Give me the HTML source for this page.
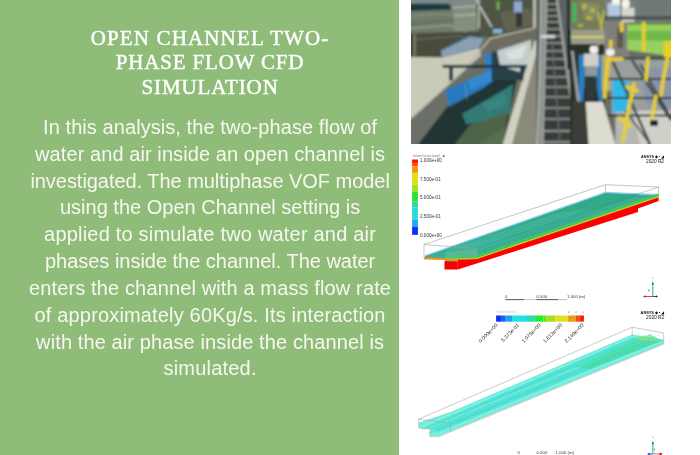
<!DOCTYPE html>
<html><head><meta charset="utf-8">
<style>
html,body{margin:0;padding:0;width:700px;height:455px;overflow:hidden;background:#fff;position:relative}
#panel{position:absolute;left:0;top:0;width:399px;height:455px;background:#8fbc79;will-change:transform;-webkit-font-smoothing:antialiased}
.h{position:absolute;left:20px;width:379px;text-align:center;font-family:"Liberation Serif",serif;font-weight:normal;-webkit-text-stroke:0.45px #fff;font-size:21px;line-height:24px;color:#fff;white-space:nowrap}
.t{position:absolute;left:20.6px;width:379px;text-align:center;font-family:"Liberation Sans",sans-serif;font-size:20px;line-height:26px;color:#f7f7f0;white-space:nowrap}
</style></head><body>
<div id="panel">
<div class="h" style="top:25.5px;left:20.6px;letter-spacing:1.15px">OPEN CHANNEL TWO-</div>
<div class="h" style="top:50px;left:20.6px;letter-spacing:0.82px">PHASE FLOW CFD</div>
<div class="h" style="top:75px;left:20.6px;letter-spacing:0.9px">SIMULATION</div>
<div class="t" style="letter-spacing:0.07px;top:114.00px">In this analysis, the two-phase flow of</div>
<div class="t" style="letter-spacing:0.08px;top:140.82px">water and air inside an open channel is</div>
<div class="t" style="letter-spacing:-0.04px;top:167.64px">investigated. The multiphase VOF model</div>
<div class="t" style="letter-spacing:0.0px;top:194.46px">using the Open Channel setting is</div>
<div class="t" style="letter-spacing:0.2px;top:221.28px">applied to simulate two water and air</div>
<div class="t" style="letter-spacing:-0.02px;top:248.10px">phases inside the channel. The water</div>
<div class="t" style="letter-spacing:0.13px;top:274.92px">enters the channel with a mass flow rate</div>
<div class="t" style="letter-spacing:0.16px;top:301.74px">of approximately 60Kg/s. Its interaction</div>
<div class="t" style="letter-spacing:0.11px;top:328.56px">with the air phase inside the channel is</div>
<div class="t" style="letter-spacing:0.2px;top:355.38px">simulated.</div>
</div>
<svg id="art" width="700" height="455" viewBox="0 0 700 455" style="position:absolute;left:0;top:0"><defs><filter id="soft" x="0" y="0" width="1" height="1"><feGaussianBlur stdDeviation="0.8"/><feComponentTransfer><feFuncA type="table" tableValues="1 1"/></feComponentTransfer></filter></defs><g id="photo" filter="url(#soft)">
<rect x="411" y="0" width="260" height="144" fill="#6a6e60"/>
<!-- ===== left half ===== -->
<polygon points="411,0 476,0 476,4 411,4" fill="#7a8a88"/>
<polygon points="411,3.8 449,3.8 451,9.5 411,11" fill="#1a3840"/>
<polygon points="411,11 476,9.5 479,31.6 411,33.2" fill="#6e7c6c"/>
<polyline points="411,23.7 465,19 479,28.5" stroke="#5a6a5a" stroke-width="1.2" fill="none"/>
<polyline points="411,28.5 449,25.3 474,34.8" stroke="#a8b0a0" stroke-width="1" fill="none"/>
<polyline points="411,16 440,14 476,16" stroke="#90a090" stroke-width="0.8" fill="none"/>
<polygon points="452,4 476,3 476,30 455,31" fill="#8a9484" opacity="0.8"/>
<path d="M452,8 L476,6 M454,16 L476,14" stroke="#c0c8c0" stroke-width="1" fill="none"/>
<polygon points="411,33.2 479,31.6 483.8,36.4 441,50.6 441,57 411,57" fill="#4a4c3c"/>
<polyline points="413,40 458,36 470,38" stroke="#707060" stroke-width="1" fill="none"/>
<rect x="414" y="34" width="1.5" height="22" fill="#8a8a78"/>
<polygon points="441,50.6 469.5,36.4 483.8,38 479,47.5 442.6,57.6" fill="#8aa0b0"/>
<polyline points="441,50.6 469.5,36.4 483.8,38" stroke="#4a7aa0" stroke-width="1.2" fill="none"/>
<polyline points="442.6,57.6 479,47.5" stroke="#5080a0" stroke-width="1.2" fill="none"/>
<polygon points="411,57 442.6,57.6 479,48 481,55 411,118.5" fill="#cacab8"/>
<polygon points="411,118.5 481,55 490,55 447.2,95 447.2,106.4 418.4,144 411,144" fill="#6a7068"/>
<polyline points="411,118.5 481,55" stroke="#b8b8a8" stroke-width="1.2" fill="none"/>
<!-- dark water -->
<polygon points="418.4,144 447.2,106.4 449,106.4 485,87 494,70 515.4,68 518.6,72.8 503,144" fill="#203636"/>
<polygon points="462,114 500,92 513,84 510,114 490,122 466,124" fill="#337a76"/>
<polygon points="482,104 505,94 507,104 488,112" fill="#3c8c84" opacity="0.7"/>
<polygon points="455,144 470,125 508,112 503,144" fill="#506448"/>
<polygon points="478,144 506,126 503,144" fill="#5a7050" opacity="0.8"/>
<!-- blue gate -->
<polygon points="445.4,90 491,70 494,70 493,81 485,87 449,106.4" fill="#2878c0"/>
<polygon points="468,80 491,70 494,70 493,80 470,90" fill="#3a98d8" opacity="0.6"/>
<line x1="465" y1="84" x2="467" y2="100" stroke="#90b0c0" stroke-width="1" opacity="0.5"/>
<polygon points="485,54 493,51 494,70 486,73" fill="#2a80c8"/>
<!-- top-middle -->
<polygon points="476,0 541,0 541,28 490.3,38.4 483.8,36.4 479,31.6 476,9.5" fill="#505444"/>
<polygon points="500,12 530,8 535,25 505,32" fill="#606450"/>
<line x1="476" y1="0" x2="491.7" y2="27" stroke="#c8d0d0" stroke-width="1.5"/>
<rect x="477.5" y="0" width="2.5" height="28.5" fill="#a0a898"/>
<rect x="496.5" y="1.6" width="3" height="8" fill="#70b050"/>
<rect x="514" y="1.6" width="8" height="11" fill="#90a8d0"/>
<rect x="516" y="12.6" width="6" height="14.4" fill="#303838"/>
<rect x="533" y="0" width="3" height="27" fill="#b8b8a8"/>
<rect x="493" y="29" width="9" height="4.5" fill="#80b0d0"/>
<polygon points="490.3,38.4 537.7,27.2 541,27.5 541,38 531,39.8 499.5,50.3 491.6,52 487,55" fill="#6c6c60"/>
<polyline points="466,68 490.3,38.4 537.7,27.2" stroke="#b8b8a8" stroke-width="1.5" fill="none"/>
<polygon points="491.6,52 499.5,50.3 499.5,60.8 515,63.5 527,56 527,80 491.6,80" fill="#2a4048"/>
<polygon points="497,50.8 531,39.8 531,60 520,72 500,66" fill="#c4cccc"/>
<polygon points="505,53 526,45 522,58 510,60" fill="#e0e6e6" opacity="0.8"/>
<!-- right wall -->
<polygon points="534.4,41 540.7,38 512.3,144 502.8,144" fill="#d0d0c0"/>
<polygon points="540.7,38 541,38 541,144 512.3,144" fill="#8a8a7a"/>
<rect x="528" y="54" width="13" height="90" fill="#8a8a80" opacity="0.0"/>
<!-- railing -->
<rect x="442.6" y="64.9" width="84" height="3" fill="#1e3440"/>
<rect x="449" y="67.5" width="4" height="13" fill="#263a44"/>
<rect x="520" y="67.5" width="3.5" height="13" fill="#263a44"/>
<!-- ===== right half ===== -->
<rect x="536" y="0" width="34" height="144" fill="#5a6262"/>
<polygon points="541,0 546.5,0 542.7,144 536,144" fill="#8a9090"/>
<path d="M541,0 L540,70 Q539,110 537,144" stroke="#b0b4b0" stroke-width="1.5" fill="none"/>
<polygon points="547,0 557,0 577.5,144 543,144" fill="#363c3c"/>
<g stroke="#8e8e86" stroke-width="1.8"><line x1="546.4" y1="4" x2="557.6" y2="4"/><line x1="546.2" y1="10" x2="558.4" y2="10"/><line x1="546.1" y1="16" x2="559.3" y2="16"/><line x1="545.9" y1="22" x2="560.1" y2="22"/><line x1="545.7" y1="29" x2="561.1" y2="29"/><line x1="545.5" y1="36" x2="562.1" y2="36"/><line x1="545.4" y1="43" x2="563.1" y2="43"/><line x1="545.2" y1="51" x2="564.3" y2="51"/><line x1="544.9" y1="59" x2="565.4" y2="59"/><line x1="544.7" y1="68" x2="566.7" y2="68"/><line x1="544.5" y1="77" x2="568.0" y2="77"/><line x1="544.2" y1="87" x2="569.4" y2="87"/><line x1="543.9" y1="97" x2="570.8" y2="97"/><line x1="543.6" y1="108" x2="572.4" y2="108"/><line x1="543.4" y1="119" x2="573.9" y2="119"/><line x1="543.0" y1="131" x2="575.6" y2="131"/><line x1="542.8" y1="142" x2="577.2" y2="142"/></g>
<line x1="546.5" y1="0" x2="542.7" y2="144" stroke="#a0a098" stroke-width="2"/>
<line x1="557" y1="0" x2="577.5" y2="144" stroke="#a0a098" stroke-width="2.5"/>
<line x1="552" y1="40" x2="560" y2="144" stroke="#70706a" stroke-width="1.2"/>
<rect x="541" y="35" width="14" height="3" fill="#d0d8d8"/>
<rect x="567" y="0" width="3" height="69" fill="#1a2530"/>
<!-- well -->
<rect x="570" y="25" width="35" height="119" fill="#2a3028"/>
<rect x="570" y="0" width="35" height="30" fill="#767a5a"/>
<polygon points="580,2 600,4 598,20 584,18" fill="#8a8c68" opacity="0.8"/>
<rect x="572.6" y="3" width="3.8" height="19" fill="#40b860"/>
<g fill="#b8b848" opacity="0.85"><rect x="582" y="4" width="5" height="5"/><rect x="590" y="8" width="5" height="5"/><rect x="586" y="16" width="6" height="4"/><rect x="578" y="24" width="5" height="3"/></g>
<path d="M598,12 L606,48 M604,10 L598,46" stroke="#c8c840" stroke-width="2.2" opacity="0.8"/>
<rect x="571" y="30" width="34" height="14" fill="#9a9c90"/>
<rect x="571" y="36" width="34" height="2" fill="#d8d040"/>
<polygon points="578.8,54.7 585,54.7 584,115 579,115" fill="#2a80c0"/>
<polygon points="596,56 602.6,54.7 602.6,112 597,112" fill="#2a80c0"/>
<polygon points="584,88 597,88 600,110 583,112" fill="#1a2838"/>
<polygon points="571,50.7 573.5,50.7 581.5,115 578.5,115" fill="#a0a8a8"/>
<rect x="583.8" y="53.7" width="14.8" height="13" fill="#d0d0c8"/>
<rect x="585" y="66.6" width="12" height="10" fill="#8a9aa0"/>
<rect x="585.7" y="76.5" width="11" height="23.5" fill="#303838"/>
<rect x="589.7" y="45.8" width="8.3" height="8" rx="3.5" fill="#f2f2f2"/>
<polygon points="572.6,101 585.7,102 588.5,144 572.6,144" fill="#3a3c38"/>
<polygon points="585.7,102 603,102 615.4,144 588.5,144" fill="#dcdcd0"/>
<!-- right-right -->
<rect x="604.4" y="0" width="66.6" height="22" fill="#7a7e78"/>
<rect x="636" y="0" width="35" height="16" fill="#707878"/>
<rect x="607.5" y="3" width="12.5" height="16" fill="#b0c8e0"/>
<rect x="621.7" y="8" width="12.7" height="20.5" fill="#d8d8d0"/>
<rect x="612" y="0" width="8" height="4.7" fill="#f4f4f0"/>
<rect x="621.7" y="0" width="8" height="8" rx="3" fill="#f4f4f0"/>
<rect x="604.4" y="16" width="66.6" height="4" fill="#404848" opacity="0.8"/>
<rect x="604.4" y="22" width="25" height="36" fill="#80807a"/>
<polygon points="627.3,22 671,22 671,56 627.3,50" fill="#98d060"/>
<polygon points="627.3,31 671,31 671,41 627.3,40" fill="#70b848"/>
<rect x="627.3" y="22" width="43.7" height="2.5" fill="#5a8a40"/>
<rect x="617" y="28" width="6" height="20" fill="#5a5a50"/>
<g fill="#e8d020"><rect x="642" y="22" width="3.5" height="30"/><rect x="664" y="41" width="7" height="20"/><rect x="620" y="22" width="3.5" height="10"/><rect x="609" y="40" width="3.5" height="8"/></g>
<rect x="601.6" y="54.7" width="10" height="36" fill="#b0a888"/>
<rect x="606" y="48.8" width="8.5" height="7" rx="3" fill="#f2f2f2"/>
<rect x="611.5" y="58" width="59.5" height="56" fill="#9a9e9c"/>
<polygon points="640,68 671,68 671,108 646,104" fill="#8a94a8"/>
<rect x="612.5" y="80.4" width="15.8" height="31.7" fill="#30b8e8"/>
<rect x="632.8" y="110.8" width="38.2" height="33.2" fill="#d0d0c8"/>
<polygon points="615.4,112.3 632.8,110.8 640,144 615.4,144" fill="#b8b8b0"/>
<g fill="#303838"><rect x="604.4" y="57.5" width="66.6" height="2"/><rect x="607" y="78" width="64" height="2"/><rect x="607" y="97" width="64" height="2"/><rect x="607" y="114.5" width="64" height="2"/></g>
<line x1="632" y1="60" x2="671" y2="120" stroke="#404848" stroke-width="2.5"/>
<line x1="625" y1="110" x2="650" y2="144" stroke="#505858" stroke-width="2"/>
<line x1="613" y1="62" x2="650" y2="144" stroke="#3a4242" stroke-width="2.5"/>
<line x1="640" y1="64" x2="671" y2="118" stroke="#3a4242" stroke-width="2"/>
<g stroke="#e8d020" stroke-width="3.6" fill="none" stroke-linecap="round"><polyline points="606,59 622,59"/><polyline points="608,59 606,80 604.5,97"/><polyline points="634,84 628,112 623,141"/><polyline points="627,87 637,91"/><polyline points="668,56 664,75 661,95"/><polyline points="620,118 630,126"/><polyline points="648,58 646,80"/><polyline points="656,96 652,118"/></g>
<rect x="650" y="120" width="8" height="6" fill="#202020"/>
</g>
<g id="cfd1">
<text x="413" y="157" font-size="2.6" fill="#777" font-family="Liberation Sans" textLength="30" lengthAdjust="spacingAndGlyphs">Volume fraction (water) ...</text><rect x="443" y="155.5" width="1.6" height="1.2" fill="#222"/>
<g>
<rect x="412.1" y="159.5" width="5.8" height="3.45" fill="#ff1000"/>
<rect x="412.1" y="162.9" width="5.8" height="3.55" fill="#ff5000"/>
<rect x="412.1" y="166.4" width="5.8" height="6.45" fill="#f09018"/>
<rect x="412.1" y="172.8" width="5.8" height="11.95" fill="#e4dc18"/>
<rect x="412.1" y="184.7" width="5.8" height="6.95" fill="#a8e020"/>
<rect x="412.1" y="191.6" width="5.8" height="9.95" fill="#30e030"/>
<rect x="412.1" y="201.5" width="5.8" height="6.25" fill="#30d8a0"/>
<rect x="412.1" y="207.7" width="5.8" height="12.35" fill="#28dcd8"/>
<rect x="412.1" y="220" width="5.8" height="7.05" fill="#20a8f0"/>
<rect x="412.1" y="227" width="5.8" height="7.85" fill="#1030ff"/>
</g>
<g font-family="Liberation Sans" font-size="4.6" fill="#333">
<text x="420" y="161.7">1.000e+00</text>
<text x="420" y="180.5">7.500e-01</text>
<text x="420" y="199.3">5.000e-01</text>
<text x="420" y="218.1">2.500e-01</text>
<text x="420" y="236.8">0.000e+00</text>
</g>
<g font-family="Liberation Sans" font-weight="bold" fill="#111">
<text x="641" y="157.5" font-size="4" textLength="23" lengthAdjust="spacingAndGlyphs">ANSYS ◆ ▪ ◢</text>
<text x="646" y="163" font-size="5" font-weight="normal" textLength="18" lengthAdjust="spacingAndGlyphs">2020 R2</text>
</g>
<!-- water surface -->
<polygon points="425,256 605.4,192.7 658.6,195 658.6,197 477,258.8 457.8,260 445,259.5 425,258.5" fill="#38ae94"/>
<polygon points="470,242 605.4,192.7 640,195 520,236" fill="#2fa77c" opacity="0.55"/>
<polygon points="445,250 560,212 600,208 480,250" fill="#48b9a6" opacity="0.5"/>
<polygon points="445,252 477,249 477,258.5 445,259" fill="#6cc08c" opacity="0.6"/>
<polyline points="425,255.8 605.4,192.4 658.6,194.6" stroke="#8ccdf0" stroke-width="1.1" fill="none"/>
<polyline points="477,255.8 658.6,193.8" stroke="#58c860" stroke-width="1.4" fill="none" opacity="0.8"/>
<polyline points="445,258 477,257.3 658.6,195.6" stroke="#40d040" stroke-width="1.2" fill="none"/>
<polyline points="445,259.3 477,258.5 658.6,196.7" stroke="#c8e010" stroke-width="1.2" fill="none"/>
<polygon points="457.8,259.8 477,259 658.6,197.2 658.6,201 638,208.5 638,212 457.8,269.5" fill="#ff0000"/>
<polygon points="444.5,261 457.8,260.5 457.8,269.5 444.5,269.5" fill="#f40000"/>
<polygon points="445,258.8 458,259 458,261.4 445,261.2" fill="#c0a040"/>
<polygon points="424,257.3 445,258 445,260 424,259.6" fill="#f09020"/>
<g stroke="#a0a0a0" stroke-width="0.6" fill="none">
<path d="M424,244.5 L605.4,184.7 L658.6,187 L658.6,195 M605.4,184.7 L605.4,192.7 M424,244.5 L477,248.5 L477,256 M424,244.5 L424,257.5"/>
</g>
<path d="M658.6,187 L477,248.5" stroke="#3a7a6a" stroke-width="0.6" fill="none" opacity="0.6"/>
<!-- scale bar 1 -->
<g font-family="Liberation Sans" font-size="4.4" fill="#444">
<text x="505" y="297.8">0</text>
<text x="536.3" y="297.8">0.500</text>
<text x="567" y="297.8">1.000</text>
<text x="578.7" y="297.8">(m)</text>
</g>
<line x1="505.4" y1="299.6" x2="567" y2="299.6" stroke="#999" stroke-width="0.6"/>
<line x1="505.4" y1="299.6" x2="524" y2="299.6" stroke="#555" stroke-width="0.9"/>
<line x1="536.5" y1="299.6" x2="558" y2="299.6" stroke="#555" stroke-width="0.9"/>
<!-- triad 1 -->
<line x1="652.8" y1="283" x2="652.8" y2="296.5" stroke="#30a050" stroke-width="0.9"/>
<polygon points="651.6,284.5 654,284.5 652.8,281.5" fill="#108030"/>
<text x="651.8" y="280" font-size="2.6" fill="#7a7" font-family="Liberation Sans">Y</text>
<line x1="645" y1="296.5" x2="652.8" y2="296.5" stroke="#d03030" stroke-width="0.9"/>
<polygon points="645.5,295.3 645.5,297.7 643,296.5" fill="#c02020"/>
<line x1="652.8" y1="296.5" x2="656.5" y2="296.5" stroke="#2040d0" stroke-width="1"/>
<polygon points="656,295.3 656,297.7 658,296.5" fill="#1030c0"/>
<circle cx="649" cy="290.4" r="0.9" fill="#20c0d0"/>
</g>

<g id="cfd2">
<text x="496.8" y="312.8" font-size="2.6" fill="#c4c4c4" font-family="Liberation Sans" textLength="21" lengthAdjust="spacingAndGlyphs">Velocity Streamline 1</text>
<g fill="#777"><rect x="568" y="311.6" width="1.2" height="1"/><rect x="575.5" y="311.6" width="1" height="1"/><rect x="582.5" y="311.6" width="1" height="1"/></g>
<g>
<rect x="496.1" y="315.5" width="4.85" height="6.2" fill="#1030f0"/>
<rect x="500.9" y="315.5" width="4.15" height="6.2" fill="#2060f0"/>
<rect x="505" y="315.5" width="7.65" height="6.2" fill="#20a0f0"/>
<rect x="512.6" y="315.5" width="14.45" height="6.2" fill="#20e0e8"/>
<rect x="527" y="315.5" width="8.95" height="6.2" fill="#30d8a8"/>
<rect x="535.9" y="315.5" width="7.55" height="6.2" fill="#20f020"/>
<rect x="543.4" y="315.5" width="2.85" height="6.2" fill="#60e020"/>
<rect x="546.2" y="315.5" width="8.95" height="6.2" fill="#a0e020"/>
<rect x="555.1" y="315.5" width="13.05" height="6.2" fill="#e0e020"/>
<rect x="568.1" y="315.5" width="7.65" height="6.2" fill="#e89a18"/>
<rect x="575.7" y="315.5" width="4.15" height="6.2" fill="#f05010"/>
<rect x="579.8" y="315.5" width="4.15" height="6.2" fill="#ff2000"/>
</g>
<g font-family="Liberation Sans" font-size="5.2" fill="#333" text-anchor="end">
<text transform="translate(498,325.5) rotate(-46)">0.000e+00</text>
<text transform="translate(519.5,325.5) rotate(-46)">5.373e-01</text>
<text transform="translate(541,325.5) rotate(-46)">1.075e+00</text>
<text transform="translate(562.5,325.5) rotate(-46)">1.612e+00</text>
<text transform="translate(584,325.5) rotate(-46)">2.149e+00</text>
</g>
<g font-family="Liberation Sans" font-weight="bold" fill="#111">
<text x="640.6" y="313.6" font-size="4" textLength="23.7" lengthAdjust="spacingAndGlyphs">ANSYS ◆ ▪ ◢</text>
<text x="646" y="319" font-size="5" font-weight="normal" textLength="18.3" lengthAdjust="spacingAndGlyphs">2020 R2</text>
</g>
<polygon points="419,422.5 450,412.2 632.2,334.5 663.7,339.6 663.7,343.8 438.4,436.2 430,436 430,429 419,428" fill="#72ecdc"/>
<polygon points="425,427.1 632.2,337.5 660,341 438.9,432.0" fill="#30dcd0" opacity="0.45"/>
<g stroke="#a8f4e8" stroke-width="0.6" opacity="0.9" fill="none">
<path d="M420,427.3 L640,333.7 M430,427.6 L655,336.4 M432,435.8 L660,342.3"/>
</g>
<g stroke="#30d0b0" stroke-width="0.5" opacity="0.7" fill="none">
<path d="M422,430.4 L645,335.1 M428,433.5 L655,340.4"/>
</g>
<polygon points="575,367.0 650,333.9 662,341 590,369.0" fill="#40d890" opacity="0.55"/>
<polygon points="635,337.3 652,338.5 660,340.5 640,340.2" fill="#b8e040" opacity="0.6"/>
<g stroke="#a8a8a8" stroke-width="0.6" fill="none">
<path d="M418.6,419.2 L632.2,327.2 L663.7,333 L663.7,344.1 L438.4,436.8 L430,436.5 L430,429 L418.6,428 Z M632.2,327.2 L632.2,335.5 M418.6,419.2 L450.5,423 L450.5,432"/>
</g>
<path d="M663.7,333 L450.5,424.7" stroke="#7aa8a0" stroke-width="0.5" fill="none" opacity="0.35"/>
<g font-family="Liberation Sans" font-size="4.4" fill="#444">
<text x="517.5" y="454">0</text>
<text x="536.4" y="454">0.500</text>
<text x="555.3" y="454">1.000 (m)</text>
</g>
<line x1="652.9" y1="443" x2="652.9" y2="453.5" stroke="#30a050" stroke-width="0.9"/>
<polygon points="651.7,444 654.1,444 652.9,441" fill="#108030"/>
<text x="652.3" y="438.5" font-size="2.6" fill="#7a7" font-family="Liberation Sans">Y</text>
<line x1="649" y1="454" x2="652.9" y2="454" stroke="#2040d0" stroke-width="1"/>
<polygon points="649.5,452.8 649.5,455.2 647,454" fill="#1030c0"/>
<line x1="652.9" y1="453.6" x2="660" y2="454.2" stroke="#d06060" stroke-width="0.9"/>
<circle cx="660.7" cy="454" r="1.3" fill="#d02020"/>
<circle cx="654.3" cy="449.3" r="0.9" fill="#20c0d0"/>
</g>
</svg>
</body></html>
